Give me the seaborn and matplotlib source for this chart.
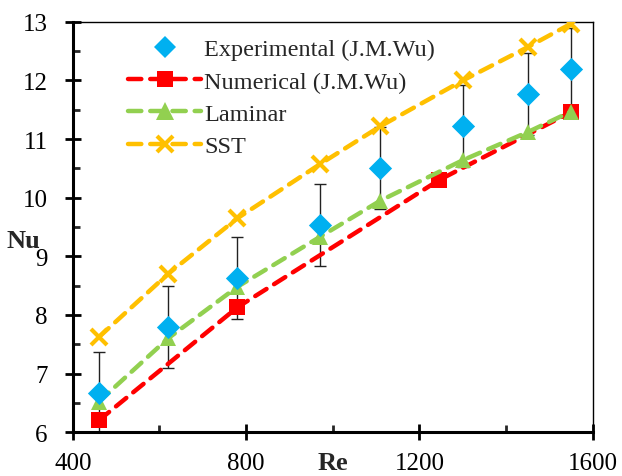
import numpy as np
import seaborn as sns
import matplotlib.pyplot as plt
from matplotlib.ticker import MultipleLocator
from matplotlib.lines import Line2D

# data
re_exp = [460, 620, 780, 970, 1110, 1300, 1450, 1550]
nu_exp = [6.66, 7.80, 8.63, 9.53, 10.51, 11.22, 11.77, 12.20]
err_exp = [0.7, 0.7, 0.7, 0.7, 0.7, 0.7, 0.7, 0.7]

re_num = [460, 780, 1245, 1550]
nu_num = [6.20, 8.13, 10.30, 11.46]

re_sim = [460, 620, 780, 970, 1110, 1300, 1450, 1550]
nu_lam = [6.52, 7.60, 8.48, 9.33, 9.95, 10.64, 11.12, 11.47]
nu_sst = [7.62, 8.70, 9.65, 10.57, 11.22, 12.00, 12.57, 12.97]

sns.set_style('ticks')
plt.rcParams['font.family'] = ['Liberation Serif', 'DejaVu Serif']

fig = plt.figure(figsize=(6.22, 4.77), dpi=100)
ax = fig.add_axes([0.117, 0.092, 0.836, 0.860])

blue, red, green, orange = '#00B0F0', '#FF0000', '#92D050', '#FFC000'
dash = dict(linestyle=(0, (3, 2)), linewidth=3.2, dash_capstyle='round')

# error bars behind everything
ax.errorbar(re_exp, nu_exp, yerr=err_exp, fmt='none', ecolor='#222222',
            elinewidth=1.0, capsize=4.5, capthick=1.0, zorder=1)

sns.lineplot(x=re_num, y=nu_num, ax=ax, color=red, marker='s', markersize=11,
             markeredgewidth=0, zorder=2, **dash)
sns.lineplot(x=re_sim, y=nu_lam, ax=ax, color=green, marker='^', markersize=12,
             markeredgewidth=0, zorder=3, **dash)
sns.lineplot(x=re_sim, y=nu_sst, ax=ax, color=orange, marker='x', markersize=11,
             markeredgewidth=3, markeredgecolor=orange, zorder=4, **dash)
sns.scatterplot(x=re_exp, y=nu_exp, ax=ax, color=blue, marker='D', s=140,
                linewidth=0, zorder=5)

ax.set_xlim(400, 1600)
ax.set_ylim(6, 13)
ax.xaxis.set_major_locator(MultipleLocator(400))
ax.xaxis.set_minor_locator(MultipleLocator(200))
ax.yaxis.set_major_locator(MultipleLocator(1))
ax.yaxis.set_minor_locator(MultipleLocator(0.5))
ax.tick_params(which='major', direction='inout', length=11, width=2,
               labelsize=18, colors='black')
ax.tick_params(which='minor', direction='in', length=5, width=2)
ax.tick_params(axis='y', pad=12.5)
ax.tick_params(axis='x', pad=9)

for side in ['left', 'bottom']:
    ax.spines[side].set_linewidth(2.2)
for side in ['top', 'right']:
    ax.spines[side].set_linewidth(1.0)
for s in ax.spines.values():
    s.set_color('black')

ax.set_xlabel('Re', fontsize=19, fontweight='bold')
ax.set_ylabel('Nu', fontsize=19, fontweight='bold', rotation=0)
ax.xaxis.set_label_coords(0.5, -0.075, transform=ax.transAxes)
ax.xaxis.label.set_va('center')
ax.yaxis.set_label_coords(-0.095, 0.44)

handles = [
    Line2D([], [], color=blue, marker='D', markersize=11, linestyle='none', markeredgewidth=0),
    Line2D([], [], color=red, marker='s', markersize=12, markeredgewidth=0, **dash),
    Line2D([], [], color=green, marker='^', markersize=13, markeredgewidth=0, **dash),
    Line2D([], [], color=orange, marker='x', markersize=12, markeredgewidth=3, **dash),
]
labels = ['Experimental (J.M.Wu)', 'Numerical (J.M.Wu)', 'Laminar', 'SST']
ax.legend(handles, labels, loc='upper left', bbox_to_anchor=(0.075, 1.0),
          frameon=False, fontsize=17.5, handlelength=3.0, handletextpad=0.12,
          labelspacing=0.42, borderaxespad=0.28)

plt.savefig('out.png', dpi=100)
